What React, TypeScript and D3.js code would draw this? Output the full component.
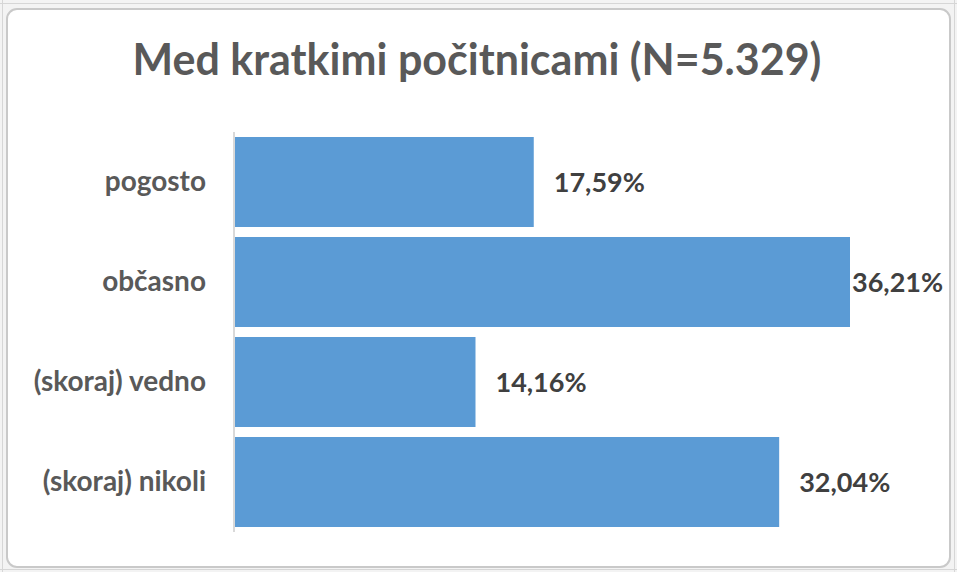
import React from "react";
import * as d3 from "d3";

const categories = ["pogosto", "občasno", "(skoraj) vedno", "(skoraj) nikoli"];
const values = [17.59, 36.21, 14.16, 32.04];
const valueLabels = ["17,59%", "36,21%", "14,16%", "32,04%"];
const title = "Med kratkimi počitnicami (N=5.329)";

const W = 957;
const H = 572;
const FONT = "Lato, 'Open Sans', sans-serif";

function measure(text: string, font: string): number {
  const c = document.createElement("canvas").getContext("2d");
  if (!c) return text.length * 14;
  c.font = font;
  return c.measureText(text).width;
}

export default function App() {
  const x0 = 235;
  const x = d3.scaleLinear().domain([0, 36.21]).range([x0, 850]);
  const y = d3.scaleBand<string>().domain(categories).range([132, 532]).paddingInner(0.1).paddingOuter(0.05);
  const labelLimit = 939;
  const valSize = 27;
  const valFont = `bold ${valSize}px ${FONT}`;

  return (
    <svg width={W} height={H} style={{ position: "absolute", left: 0, top: 0 }}>
      <rect x={0} y={0} width={W} height={H} fill="#f3f3f3" />
      <line x1={0} y1={3.5} x2={W} y2={3.5} stroke="#d6d6d6" strokeWidth={1} />
      <line x1={2.5} y1={0} x2={2.5} y2={H} stroke="#d6d6d6" strokeWidth={1} />
      <line x1={0} y1={H - 2.5} x2={W} y2={H - 2.5} stroke="#d6d6d6" strokeWidth={1} />
      <line x1={W - 2.5} y1={0} x2={W - 2.5} y2={H} stroke="#d6d6d6" strokeWidth={1} />
      <rect x={7} y={9} width={943} height={558} rx={10} ry={10} fill="#ffffff" stroke="#c9c9c9" strokeWidth={2} />
      <text x={477} y={75} textAnchor="middle" fontFamily={FONT} fontWeight="bold" fontSize={43} fill="#595959">
        {title}
      </text>
      {categories.map((c, i) => {
        const yy = y(c)!;
        const bw = y.bandwidth();
        const xe = x(values[i]);
        const w = measure(valueLabels[i], valFont);
        const lx = Math.max(xe + 2, Math.min(xe + 20, labelLimit - w));
        return (
          <g key={c}>
            <rect x={x0} y={yy} width={xe - x0} height={bw} fill="#5B9BD5" />
            <text x={206} y={yy + bw / 2 + 9} textAnchor="end" fontFamily={FONT} fontWeight="bold" fontSize={28} fill="#595959">
              {c}
            </text>
            <text x={lx} y={yy + bw / 2 + 10} fontFamily={FONT} fontWeight="bold" fontSize={valSize} fill="#404040">
              {valueLabels[i]}
            </text>
          </g>
        );
      })}
      <line x1={234} y1={132} x2={234} y2={532} stroke="#d9d9d9" strokeWidth={2} />
    </svg>
  );
}
